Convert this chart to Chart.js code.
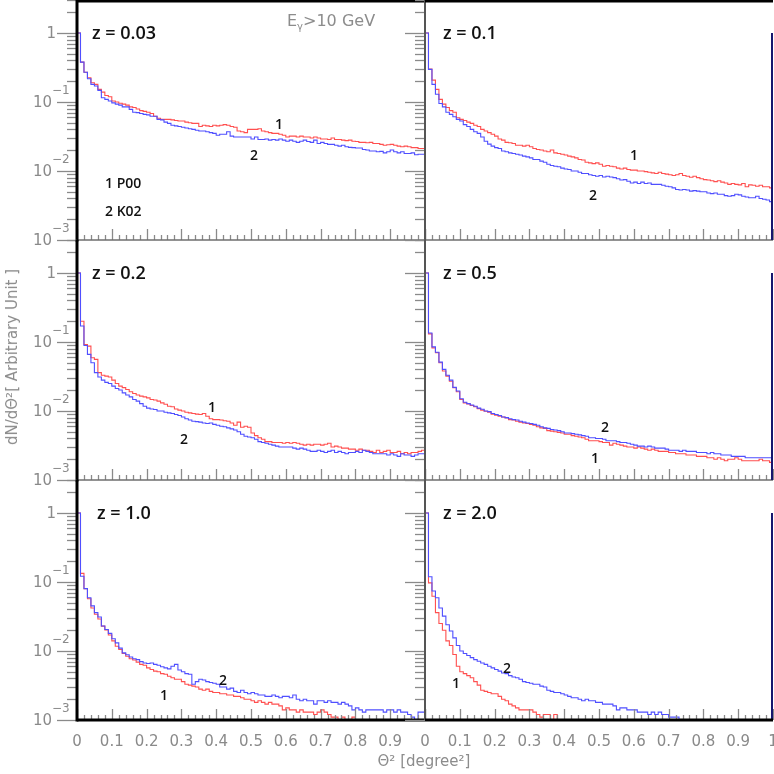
<!DOCTYPE html>
<html>
<head>
<meta charset="utf-8">
<script src="https://cdn.jsdelivr.net/npm/chart.js@4.4.0/dist/chart.umd.min.js"></script>
<style>
body { margin: 0; background: #fff; }
#wrap { position: relative; width: 774px; height: 774px; overflow: hidden; background: #fff; }
#wrap canvas { position: absolute; left: 0; top: 0; }
.t { position: absolute; white-space: nowrap; line-height: 1; z-index: 5; }
.z { font: 600 18px "Open Sans", sans-serif; color: #111; }
.n { font: 600 14px "Open Sans", sans-serif; color: #111; }
.g { font: 16px "DejaVu Sans", sans-serif; color: #8c8c8c; }
.ax { font: 15px "DejaVu Sans", sans-serif; color: #8c8c8c; }
</style>
</head>
<body>
<div id="wrap">
  <canvas id="c0" width="774" height="774"></canvas>
  <canvas id="c1" width="774" height="774"></canvas>
  <canvas id="c2" width="774" height="774"></canvas>
  <canvas id="c3" width="774" height="774"></canvas>
  <canvas id="c4" width="774" height="774"></canvas>
  <canvas id="c5" width="774" height="774"></canvas>

  <div class="t z" style="left:92px;top:20px">z = 0.03</div>
  <div class="t z" style="left:443px;top:20px">z = 0.1</div>
  <div class="t z" style="left:92px;top:260px">z = 0.2</div>
  <div class="t z" style="left:443px;top:260px">z = 0.5</div>
  <div class="t z" style="left:97px;top:500px">z = 1.0</div>
  <div class="t z" style="left:443px;top:500px">z = 2.0</div>

  <div class="t g" style="left:287px;top:11px">E<span style="font-size:10px;position:relative;top:4px">γ</span>&gt;10 GeV</div>

  <div class="t n" style="left:105px;top:173px">1 P00</div>
  <div class="t n" style="left:105px;top:201px">2 K02</div>

  <div class="t n" style="left:275px;top:114px">1</div>
  <div class="t n" style="left:250px;top:145px">2</div>
  <div class="t n" style="left:630px;top:145px">1</div>
  <div class="t n" style="left:589px;top:185px">2</div>
  <div class="t n" style="left:208px;top:397px">1</div>
  <div class="t n" style="left:180px;top:429px">2</div>
  <div class="t n" style="left:601px;top:417px">2</div>
  <div class="t n" style="left:591px;top:448px">1</div>
  <div class="t n" style="left:219px;top:670px">2</div>
  <div class="t n" style="left:160px;top:685px">1</div>
  <div class="t n" style="left:503px;top:658px">2</div>
  <div class="t n" style="left:452px;top:673px">1</div>

  <div class="t ax" style="left:12px;top:357px;transform:translate(-50%,-50%) rotate(-90deg)">dN/dΘ²[ Arbitrary Unit ]</div>
  <div class="t ax" style="left:424px;top:761px;transform:translate(-50%,-50%)">Θ² [degree²]</div>
</div>

<script>
// histogram contents, 100 bins of 0.01 degree^2 from 0 to 1
// P00 = curve 1 (red), K02 = curve 2 (blue)
const z003_P00 = [
  1.0,0.378,0.27,0.224,0.19,0.18,0.152,0.139,0.124,0.119,
  0.103,0.1,0.096,0.093,0.09,0.085,0.083,0.079,0.075,0.073,
  0.071,0.068,0.062,0.058,0.056,0.056,0.056,0.055,0.054,0.053,
  0.053,0.051,0.05,0.049,0.049,0.044,0.046,0.045,0.044,0.046,
  0.045,0.046,0.047,0.046,0.044,0.043,0.038,0.037,0.036,0.04,
  0.04,0.04,0.041,0.038,0.037,0.036,0.035,0.035,0.034,0.033,
  0.031,0.032,0.032,0.031,0.032,0.031,0.031,0.030,0.031,0.030,
  0.029,0.029,0.0286,0.030,0.0286,0.0286,0.028,0.0275,0.028,0.027,
  0.0267,0.026,0.026,0.0256,0.026,0.025,0.025,0.0243,0.0236,0.024,
  0.0243,0.0236,0.0229,0.0224,0.0229,0.0224,0.0218,0.0218,0.0212,0.0212];
const z003_K02 = [
  1.0,0.378,0.27,0.217,0.18,0.17,0.147,0.115,0.109,0.103,
  0.097,0.093,0.09,0.085,0.085,0.078,0.071,0.07,0.068,0.066,
  0.065,0.062,0.062,0.056,0.055,0.051,0.049,0.046,0.045,0.044,
  0.043,0.042,0.041,0.04,0.039,0.038,0.038,0.037,0.036,0.035,
  0.033,0.034,0.034,0.037,0.032,0.031,0.031,0.031,0.031,0.031,
  0.029,0.031,0.0286,0.0286,0.029,0.028,0.0286,0.028,0.029,0.028,
  0.027,0.028,0.027,0.026,0.027,0.028,0.0267,0.026,0.028,0.025,
  0.026,0.025,0.0243,0.0243,0.0236,0.0229,0.0236,0.0224,0.022,0.0218,
  0.0215,0.0215,0.0205,0.0201,0.0195,0.0195,0.019,0.0192,0.0183,0.019,
  0.0201,0.019,0.0183,0.019,0.0179,0.0179,0.0183,0.0172,0.0175,0.0175];

const z01_P00 = [
  1.0,0.30,0.207,0.152,0.109,0.093,0.083,0.075,0.071,0.059,
  0.056,0.054,0.051,0.049,0.046,0.044,0.04,0.038,0.036,0.034,
  0.032,0.029,0.028,0.026,0.0256,0.025,0.0236,0.0236,0.0229,0.0236,
  0.0224,0.0212,0.0205,0.0201,0.0195,0.019,0.0201,0.0183,0.0179,0.0175,
  0.017,0.0164,0.016,0.0155,0.0147,0.0144,0.0134,0.0131,0.0128,0.0131,
  0.0125,0.0117,0.012,0.0117,0.0115,0.011,0.0107,0.011,0.0105,0.0103,
  0.0103,0.01,0.01,0.0098,0.0096,0.0094,0.0092,0.0096,0.0092,0.009,
  0.0088,0.0086,0.0088,0.0092,0.0086,0.0084,0.0081,0.0084,0.008,0.0077,
  0.0075,0.0074,0.0072,0.007,0.0072,0.0069,0.0067,0.0064,0.0066,0.0064,
  0.0063,0.0066,0.0059,0.0063,0.0062,0.006,0.0062,0.0059,0.0059,0.0057];
const z01_K02 = [
  1.0,0.296,0.18,0.129,0.095,0.085,0.071,0.066,0.061,0.056,
  0.053,0.047,0.044,0.04,0.037,0.035,0.031,0.027,0.0245,0.0229,
  0.0218,0.0212,0.0195,0.019,0.0183,0.0179,0.0175,0.017,0.0164,0.016,
  0.0155,0.0147,0.0147,0.0139,0.0134,0.0125,0.012,0.0117,0.0115,0.011,
  0.0107,0.0105,0.01,0.01,0.0096,0.0092,0.0092,0.0088,0.0086,0.0084,
  0.0086,0.0082,0.0084,0.0082,0.008,0.0077,0.0074,0.0075,0.0071,0.0067,
  0.0069,0.0066,0.0069,0.0066,0.0067,0.0064,0.0064,0.0064,0.0062,0.006,
  0.0059,0.0057,0.0054,0.0053,0.0054,0.0053,0.0051,0.0052,0.0051,0.005,
  0.005,0.0048,0.0047,0.0048,0.0046,0.0046,0.0044,0.0043,0.0044,0.0046,
  0.0045,0.0043,0.0042,0.0041,0.0041,0.0043,0.004,0.0039,0.0038,0.0036];

const z02_P00 = [
  1.0,0.2,0.092,0.087,0.059,0.056,0.036,0.033,0.032,0.031,
  0.028,0.025,0.0229,0.0218,0.0205,0.019,0.0179,0.017,0.0164,0.016,
  0.0155,0.0147,0.0144,0.0139,0.0131,0.0125,0.0117,0.0115,0.0107,0.0103,
  0.01,0.0096,0.0094,0.0092,0.009,0.0089,0.0092,0.0084,0.0077,0.0075,
  0.0075,0.0074,0.0072,0.0071,0.0067,0.0062,0.0069,0.0058,0.006,0.0058,
  0.0048,0.0044,0.0041,0.0039,0.0036,0.0036,0.0035,0.0035,0.0035,0.0034,
  0.0035,0.0034,0.0035,0.0034,0.0033,0.0032,0.0033,0.0032,0.0033,0.0033,
  0.0032,0.0033,0.0034,0.003,0.0031,0.003,0.0029,0.0029,0.0028,0.0028,
  0.0027,0.0028,0.0027,0.0027,0.0026,0.0025,0.0027,0.0025,0.0026,0.0027,
  0.0025,0.0025,0.0026,0.0024,0.0025,0.0024,0.0025,0.0025,0.0026,0.0027];
const z02_K02 = [
  1.0,0.17,0.089,0.066,0.05,0.036,0.031,0.028,0.026,0.025,
  0.0229,0.0212,0.0201,0.0183,0.017,0.016,0.0147,0.0139,0.0128,0.0117,
  0.011,0.0107,0.0105,0.01,0.01,0.0096,0.0094,0.0092,0.0089,0.0086,
  0.0082,0.0077,0.0074,0.0071,0.007,0.0069,0.0067,0.0066,0.0067,0.0064,
  0.0062,0.006,0.0059,0.0057,0.0055,0.0053,0.005,0.0046,0.0043,0.0042,
  0.0041,0.0039,0.0036,0.0035,0.0034,0.0033,0.0032,0.0031,0.003,0.003,
  0.003,0.003,0.0029,0.0028,0.0029,0.0028,0.0027,0.0026,0.0026,0.0027,
  0.0026,0.0025,0.0026,0.0027,0.0025,0.0026,0.0025,0.0024,0.0025,0.0025,
  0.0026,0.0025,0.0027,0.0026,0.0025,0.0024,0.0024,0.0024,0.0024,0.0023,
  0.0024,0.0023,0.0022,0.0024,0.0023,0.0023,0.0022,0.0023,0.0024,0.0024];

const z05_P00 = [
  1.0,0.131,0.082,0.07,0.05,0.038,0.032,0.027,0.0217,0.019,
  0.0147,0.0131,0.0126,0.012,0.0115,0.0108,0.0103,0.0099,0.0096,0.009,
  0.0087,0.0084,0.0082,0.0079,0.0075,0.0074,0.0071,0.0069,0.0067,0.0066,
  0.0064,0.0062,0.0059,0.0057,0.0056,0.0052,0.0051,0.005,0.0049,0.0048,
  0.0046,0.0046,0.0044,0.0043,0.0042,0.0041,0.0039,0.0037,0.0037,0.0037,
  0.0036,0.0035,0.0035,0.0032,0.0034,0.0033,0.0032,0.0031,0.003,0.003,
  0.0029,0.003,0.0029,0.0028,0.0027,0.0028,0.0027,0.0026,0.0026,0.0026,
  0.0025,0.0025,0.0024,0.0024,0.0024,0.0023,0.0023,0.0023,0.0022,0.0022,
  0.0022,0.0021,0.0021,0.002,0.0021,0.002,0.0019,0.002,0.002,0.0021,
  0.002,0.0019,0.0019,0.0019,0.0019,0.0019,0.002,0.0019,0.0019,0.0018];
const z05_K02 = [
  1.0,0.135,0.085,0.071,0.051,0.04,0.033,0.028,0.022,0.0195,
  0.015,0.0134,0.0128,0.0122,0.0117,0.011,0.0106,0.01,0.0098,0.0092,
  0.0089,0.0086,0.0082,0.008,0.0077,0.0075,0.0074,0.0071,0.0069,0.0067,
  0.0066,0.0064,0.0062,0.0059,0.0057,0.0056,0.0054,0.0053,0.0052,0.005,
  0.0048,0.0048,0.0047,0.0046,0.0045,0.0044,0.0043,0.0041,0.0041,0.004,
  0.004,0.0039,0.0037,0.0037,0.0037,0.0036,0.0035,0.0035,0.0034,0.0033,
  0.0032,0.0031,0.0031,0.003,0.0031,0.003,0.0029,0.0029,0.0029,0.0028,
  0.0027,0.0027,0.0027,0.0026,0.0027,0.0026,0.0026,0.0026,0.0025,0.0025,
  0.0025,0.0024,0.0025,0.0024,0.0024,0.0023,0.0023,0.0023,0.0022,0.0022,
  0.0022,0.0022,0.0021,0.0021,0.0021,0.0021,0.0021,0.0021,0.0021,0.0021];

const z10_P00 = [
  1.0,0.133,0.08,0.057,0.042,0.034,0.029,0.0229,0.0201,0.017,
  0.014,0.0117,0.0105,0.0092,0.0084,0.0077,0.0074,0.0069,0.0064,0.0062,
  0.0057,0.0054,0.0051,0.005,0.0047,0.0046,0.0043,0.0041,0.0039,0.0039,
  0.0036,0.0033,0.0032,0.0031,0.003,0.0028,0.0027,0.0028,0.0026,0.0025,
  0.0025,0.0024,0.0024,0.0023,0.0023,0.0022,0.0022,0.0021,0.002,0.002,
  0.0019,0.0018,0.0019,0.0018,0.0017,0.0018,0.0017,0.0017,0.0016,0.0014,
  0.0015,0.0014,0.0014,0.0013,0.0014,0.0013,0.0013,0.0013,0.0012,0.0013,
  0.0014,0.0013,0.0012,0.0011,0.0011,0.001,0.0011,0.001,0.001,0.0011,
  0.00099,0.0009,0.0008,0.0007,0.0007,0.0006,0.0006,0.0006,0.0005,0.0005,
  0.0005,0.0005,0.0005,0.0005,0.0005,0.0005,0.0005,0.0005,0.0005,0.0005];
const z10_K02 = [
  1.0,0.121,0.08,0.059,0.045,0.036,0.031,0.023,0.0205,0.018,
  0.015,0.0131,0.011,0.0094,0.0088,0.0082,0.0077,0.0075,0.007,0.0067,
  0.0066,0.0067,0.0064,0.0062,0.0059,0.0057,0.0055,0.006,0.0064,0.0053,
  0.005,0.0047,0.0046,0.0033,0.0036,0.0039,0.0038,0.0036,0.0035,0.0034,
  0.0033,0.003,0.003,0.0028,0.0029,0.0026,0.0025,0.0027,0.0025,0.0024,
  0.0025,0.0024,0.0023,0.0023,0.0022,0.0022,0.0023,0.0022,0.0021,0.0022,
  0.0022,0.0021,0.0023,0.002,0.0019,0.002,0.0019,0.0019,0.0017,0.0019,
  0.0019,0.0018,0.0019,0.0018,0.0018,0.0017,0.0018,0.0017,0.0016,0.0014,
  0.0015,0.0014,0.0013,0.0014,0.0014,0.0014,0.0014,0.0014,0.0013,0.0014,
  0.0014,0.0013,0.0014,0.0013,0.0013,0.0012,0.0011,0.001,0.0013,0.0013];

const z20_P00 = [
  1.0,0.097,0.062,0.036,0.025,0.02,0.014,0.012,0.0089,0.006,
  0.005,0.0047,0.0044,0.0041,0.0036,0.0032,0.0027,0.0026,0.0025,0.0024,
  0.0024,0.0022,0.002,0.0019,0.0017,0.0016,0.0015,0.0014,0.0014,0.0014,
  0.0014,0.0013,0.0012,0.0011,0.0012,0.0012,0.001,0.0012,0.00096,0.00095,
  0.00098,0.00092,0.00097,0.00085,0.0008,0.0007,0.0006,0.0005,0.0005,0.0005,
  0.0005,0.0005,0.0005,0.0005,0.0005,0.0005,0.0005,0.0005,0.0005,0.0005,
  0.0005,0.0005,0.0005,0.0005,0.0005,0.0005,0.0005,0.0005,0.0005,0.0005,
  0.0005,0.0005,0.0005,0.0005,0.0005,0.0005,0.0005,0.0005,0.0005,0.0005,
  0.0005,0.0005,0.0005,0.0005,0.0005,0.0005,0.0005,0.0005,0.0005,0.0005,
  0.0005,0.0005,0.0005,0.0005,0.0005,0.0005,0.0005,0.0005,0.0005,0.0005];
const z20_K02 = [
  1.0,0.119,0.074,0.059,0.042,0.032,0.024,0.0195,0.0155,0.012,
  0.01,0.0092,0.0086,0.008,0.0075,0.0071,0.0067,0.0064,0.006,0.0057,
  0.0054,0.0051,0.0048,0.0047,0.0044,0.0042,0.0041,0.0039,0.0036,0.0035,
  0.0034,0.0033,0.0033,0.0031,0.003,0.0027,0.0026,0.0025,0.0025,0.0024,
  0.0023,0.0022,0.0021,0.0021,0.002,0.0019,0.002,0.0019,0.0019,0.0018,
  0.0018,0.0017,0.0017,0.0017,0.0016,0.0014,0.0015,0.0015,0.0014,0.0014,
  0.0014,0.0013,0.0013,0.0013,0.0012,0.0013,0.0012,0.0013,0.0012,0.0012,
  0.0011,0.0011,0.0011,0.001,0.001,0.001,0.00099,0.001,0.00098,0.0009,
  0.0008,0.0007,0.0006,0.0005,0.0005,0.0005,0.0005,0.0005,0.0005,0.0005,
  0.0005,0.0005,0.0005,0.0005,0.0005,0.0005,0.0005,0.0005,0.0005,0.0005];

// axis labels
const yLabelValues = [0.001, 0.01, 0.1, 1];
const yLabelBase = ['10', '10', '10', '1'];
const yLabelExp = ['\u22123', '\u22122', '\u22121', ''];
const xLabelValues = [0, 0.1, 0.2, 0.3, 0.4, 0.5, 0.6, 0.7, 0.8, 0.9, 1];
const xTickLabels = ['0', '0.1', '0.2', '0.3', '0.4', '0.5', '0.6', '0.7', '0.8', '0.9', '1'];

const nBins = 100;

function histo(vals) {
  // points at the low edge of each bin, plus the closing edge at 1
  var pts = [];
  for (var i = 0; i < nBins; i++) pts.push({ x: i / nBins, y: vals[i] });
  pts.push({ x: 1, y: vals[nBins - 1] });
  return pts;
}

function seg(ctx, x1, y1, x2, y2) {
  ctx.beginPath();
  ctx.moveTo(x1, y1);
  ctx.lineTo(x2, y2);
  ctx.stroke();
}

const panelFrame = {
  id: 'panelFrame',
  afterDraw(chart, args, o) {
    const ctx = chart.ctx, a = chart.chartArea;
    const xs = chart.scales.x, ys = chart.scales.y;
    ctx.save();

    // log ticks, outside on the left
    ctx.strokeStyle = '#8a8a8a';
    ctx.lineWidth = 1.3;
    for (let d = -3; d <= 0; d++) {
      for (let m = 1; m <= 9; m++) {
        const v = m * Math.pow(10, d);
        if (v > ys.max + 1e-9) break;
        const py = Math.round(ys.getPixelForValue(v)) + 0.5;
        seg(ctx, a.left - (m === 1 ? 20 : 10), py, a.left, py);
      }
    }
    // linear ticks, inside from the bottom
    for (let k = 0; k <= 50; k++) {
      const px = Math.round(xs.getPixelForValue(k / 50)) + 0.5;
      seg(ctx, px, a.bottom, px, a.bottom - (k % 5 === 0 ? 11 : 5));
    }

    // thin panel borders
    ctx.strokeStyle = '#6e6e6e';
    ctx.lineWidth = 1.5;
    seg(ctx, a.left, a.bottom, a.right, a.bottom);
    if (o.col === 1) {
      ctx.strokeStyle = '#555';
      ctx.lineWidth = 2;
      seg(ctx, a.left, a.top, a.left, a.bottom);
      ctx.strokeStyle = '#16166e';
      seg(ctx, a.right - 1, ys.getPixelForValue(1), a.right - 1, a.bottom);
    }

    // outer frame
    ctx.strokeStyle = '#000';
    ctx.lineWidth = 3;
    if (o.col === 0) seg(ctx, a.left, a.top, a.left, a.bottom + 1.5);
    if (o.row === 0) seg(ctx, a.left, a.top + 1, a.right, a.top + 1);
    if (o.row === 2) seg(ctx, a.left, a.bottom, a.right, a.bottom);

    // tick labels
    ctx.fillStyle = '#8a8a8a';
    if (o.col === 0) {
      yLabelValues.forEach(function (v, i) {
        const py = ys.getPixelForValue(v);
        ctx.textBaseline = 'middle';
        ctx.textAlign = 'right';
        ctx.font = '15px "DejaVu Sans"';
        if (yLabelExp[i]) {
          ctx.fillText(yLabelBase[i], a.left - 25, py + 1);
          ctx.textAlign = 'left';
          ctx.font = '12px "DejaVu Sans"';
          ctx.fillText(yLabelExp[i], a.left - 25, py - 11);
        } else {
          ctx.fillText(yLabelBase[i], a.left - 21, py + 1);
        }
      });
    }
    if (o.row === 2) {
      ctx.textBaseline = 'middle';
      ctx.textAlign = 'center';
      ctx.font = '15px "DejaVu Sans"';
      xLabelValues.forEach(function (v, i) {
        if (o.col === 0 && v === 1) return;
        ctx.fillText(xTickLabels[i], xs.getPixelForValue(v), a.bottom + 22);
      });
    }
    ctx.restore();
  }
};

function makePanel(id, red, blue, col, row) {
  const left = col === 0 ? 77 : 425;
  const right = col === 0 ? 425 : 773;
  const top = row * 240;
  const bottom = top + 240;
  return new Chart(document.getElementById(id), {
    type: 'line',
    data: {
      datasets: [
        { data: histo(red), borderColor: '#ff4f4f', borderWidth: 1.1, stepped: true,
          pointRadius: 0, fill: false, order: 2 },
        { data: histo(blue), borderColor: '#4f4fff', borderWidth: 1.1, stepped: true,
          pointRadius: 0, fill: false, order: 1 }
      ]
    },
    options: {
      responsive: false,
      animation: false,
      events: [],
      layout: { autoPadding: false,
        padding: { left: left, right: 774 - right, top: top, bottom: 774 - bottom } },
      scales: {
        x: { type: 'linear', min: 0, max: 1, display: false },
        y: { type: 'logarithmic', min: 0.001, max: 3, display: false }
      },
      plugins: {
        legend: { display: false },
        tooltip: { enabled: false },
        panelFrame: { col: col, row: row }
      }
    },
    plugins: [panelFrame]
  });
}

makePanel('c0', z003_P00, z003_K02, 0, 0);
makePanel('c1', z01_P00, z01_K02, 1, 0);
makePanel('c2', z02_P00, z02_K02, 0, 1);
makePanel('c3', z05_P00, z05_K02, 1, 1);
makePanel('c4', z10_P00, z10_K02, 0, 2);
makePanel('c5', z20_P00, z20_K02, 1, 2);
</script>
</body>
</html>
